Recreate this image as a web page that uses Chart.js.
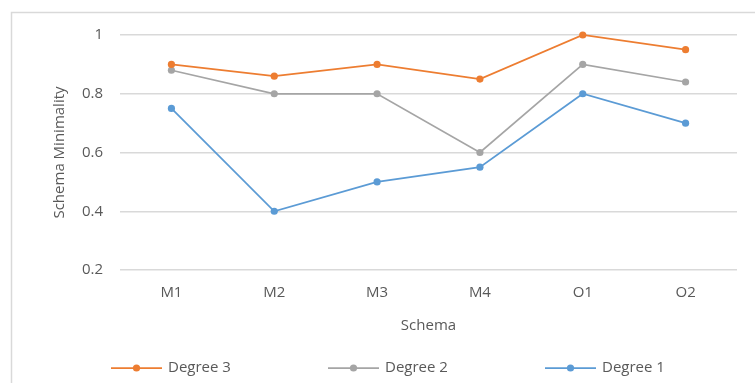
<!DOCTYPE html>
<html>
<head>
<meta charset="utf-8">
<style>
  html, body { margin: 0; padding: 0; background: #ffffff; }
  #wrap { position: relative; width: 755px; height: 383px; }
</style>
<script src="https://cdn.jsdelivr.net/npm/chart.js@4/dist/chart.umd.min.js"></script>
</head>
<body>
<div id="wrap"><canvas id="chart" width="755" height="383"></canvas></div>
<script>
// Schema minimality per schema, for three degrees
const categories = ['M1', 'M2', 'M3', 'M4', 'O1', 'O2'];
const degree3 = [0.90, 0.86, 0.90, 0.85, 1.00, 0.95];
const degree2 = [0.88, 0.80, 0.80, 0.60, 0.90, 0.84];
const degree1 = [0.75, 0.40, 0.50, 0.55, 0.80, 0.70];
const seriesNames = ['Degree 3', 'Degree 2', 'Degree 1'];
const seriesColors = ['#ED7D31', '#A5A5A5', '#5B9BD5'];

const FONT = 'Open Sans';
const FONT_SIZE = 15;
const TEXT = '#595959';
const GRID = '#d9d9d9';

function lineSeries(name, values, color) {
  return {
    label: name,
    data: values,
    borderColor: color,
    backgroundColor: color,
    borderWidth: 1.75,
    pointRadius: 3.6,
    pointHoverRadius: 3.6,
    pointBorderWidth: 0,
    pointBackgroundColor: color,
    tension: 0,
    clip: false
  };
}

// White background and the light frame around the chart
const framePlugin = {
  id: 'frame',
  beforeDraw(chart) {
    const ctx = chart.ctx;
    ctx.save();
    ctx.fillStyle = '#ffffff';
    ctx.fillRect(0, 0, chart.width, chart.height);
    ctx.strokeStyle = GRID;
    ctx.lineWidth = 1.5;
    ctx.strokeRect(11.5, 12.5, chart.width + 10, chart.height + 10);
    ctx.restore();
  }
};

// Legend row: line-with-marker sample followed by the series name
const legendRow = {
  id: 'legendRow',
  afterDraw(chart) {
    const ctx = chart.ctx;
    const y = 368, startX = 111, step = 217, sample = 51;
    ctx.save();
    chart.data.datasets.forEach((ds, i) => {
      const x0 = startX + i * step;
      ctx.strokeStyle = ds.borderColor;
      ctx.lineWidth = 1.75;
      ctx.beginPath();
      ctx.moveTo(x0, y);
      ctx.lineTo(x0 + sample, y);
      ctx.stroke();
      ctx.fillStyle = ds.borderColor;
      ctx.beginPath();
      ctx.arc(x0 + sample / 2, y, 3.6, 0, Math.PI * 2);
      ctx.fill();
      ctx.fillStyle = TEXT;
      ctx.font = FONT_SIZE + 'px "' + FONT + '"';
      ctx.textBaseline = 'middle';
      ctx.textAlign = 'left';
      ctx.fillText(ds.label, x0 + sample + 6, y);
    });
    ctx.restore();
  }
};

new Chart(document.getElementById('chart'), {
  type: 'line',
  data: {
    labels: categories,
    datasets: [
      lineSeries(seriesNames[0], degree3, seriesColors[0]),
      lineSeries(seriesNames[1], degree2, seriesColors[1]),
      lineSeries(seriesNames[2], degree1, seriesColors[2])
    ]
  },
  options: {
    responsive: false,
    animation: false,
    devicePixelRatio: 1,
    layout: { padding: { left: 0, right: 18, top: 35, bottom: 43 } },
    plugins: {
      legend: { display: false },
      tooltip: { enabled: false }
    },
    scales: {
      x: {
        offset: true,
        grid: { display: false, drawTicks: false },
        border: { display: false },
        ticks: { color: TEXT, font: { family: FONT, size: FONT_SIZE }, padding: 14 },
        title: {
          display: true, text: 'Schema', color: TEXT,
          font: { family: FONT, size: FONT_SIZE },
          padding: { top: 0, bottom: 5 }
        },
        afterFit(scale) { scale.height = 70; }
      },
      y: {
        min: 0.2,
        max: 1,
        grid: { color: GRID, lineWidth: 1.5, drawTicks: false },
        border: { display: false },
        ticks: {
          stepSize: 0.2,
          color: TEXT,
          font: { family: FONT, size: FONT_SIZE },
          padding: 17,
          callback: v => String(Number(v.toFixed(1)))
        },
        title: {
          display: true, text: 'Schema Minimality', color: TEXT,
          font: { family: FONT, size: FONT_SIZE },
          padding: { top: 51, bottom: 0 }
        },
        afterFit(scale) { scale.width = 120; }
      }
    }
  },
  plugins: [framePlugin, legendRow]
});
</script>
</body>
</html>
